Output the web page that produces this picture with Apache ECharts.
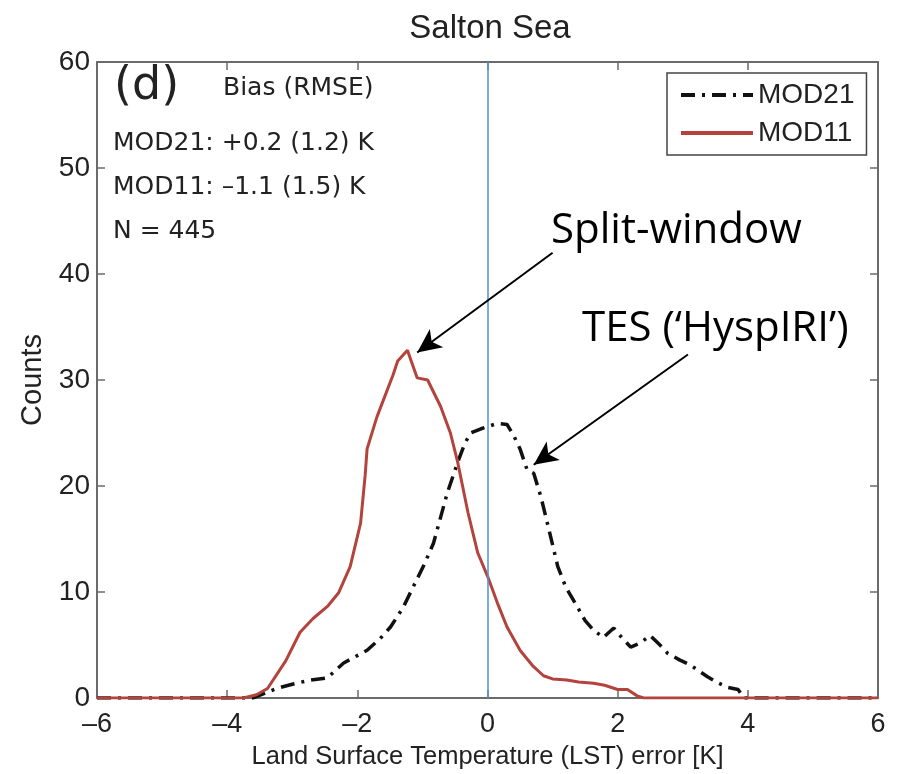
<!DOCTYPE html>
<html>
<head>
<meta charset="utf-8">
<script src="https://cdn.jsdelivr.net/npm/echarts@6/dist/echarts.min.js"></script>
<style>html,body{margin:0;padding:0;background:#fff;}#chart{width:900px;height:774px;}</style>
</head>
<body>
<div id="chart"></div>
<script>
// ---- data ----
var titleText = 'Salton Sea';
var xTicks = [-6, -4, -2, 0, 2, 4, 6];
var yTicks = [0, 10, 20, 30, 40, 50, 60];
var seriesNames = ['MOD21', 'MOD11'];

var mod21X = [-6, -3.6, -3.4, -3.24, -3.0, -2.72, -2.46, -2.3, -2.21, -2.0, -1.85, -1.65, -1.49, -1.3, -1.14, -0.98, -0.83, -0.62, -0.46, -0.35, -0.26, -0.1, 0, 0.15, 0.3, 0.4, 0.5, 0.61, 0.71, 0.82, 0.92, 1.08, 1.2, 1.38, 1.5, 1.63, 1.78, 1.94, 2.05, 2.2, 2.35, 2.5, 2.65, 2.77, 2.95, 3.12, 3.38, 3.55, 3.69, 3.85, 3.94, 6];
var mod21Y = [0, 0, 0.5, 0.9, 1.3, 1.7, 1.9, 2.8, 3.3, 4.0, 4.5, 5.6, 6.7, 8.5, 10.5, 12.5, 14.6, 19.3, 22.2, 24, 25, 25.4, 25.6, 25.9, 25.8, 24.8, 23.5, 21.5, 21.2, 19, 16.5, 12.4, 10.5, 8.6, 7.3, 6.4, 5.7, 6.6, 5.8, 4.8, 5.2, 5.9, 5.0, 4.2, 3.6, 3.1, 2.0, 1.4, 1.0, 0.8, 0, 0];

var mod11X = [-6, -3.75, -3.55, -3.38, -3.1, -2.88, -2.68, -2.45, -2.29, -2.11, -1.95, -1.88, -1.85, -1.7, -1.6, -1.45, -1.38, -1.23, -1.08, -0.92, -0.72, -0.57, -0.46, -0.3, -0.15, 0, 0.15, 0.3, 0.5, 0.7, 0.86, 1.0, 1.22, 1.4, 1.63, 1.8, 2.0, 2.15, 2.3, 2.4, 6];
var mod11Y = [0, 0, 0.3, 0.9, 3.5, 6.2, 7.5, 8.7, 9.9, 12.4, 16.5, 21, 23.5, 26.5, 28.1, 30.5, 31.8, 32.8, 30.2, 30, 27.5, 25, 22.3, 17.5, 13.7, 11.5, 9, 6.7, 4.5, 3, 2.1, 1.8, 1.7, 1.5, 1.4, 1.2, 0.8, 0.8, 0.2, 0, 0];

var infoLines = ['Bias (RMSE)', 'MOD21: +0.2 (1.2) K', 'MOD11: \u20131.1 (1.5) K', 'N = 445'];
var panelLabel = '(d)';
var xName = 'Land Surface Temperature (LST) error [K]';
var yName = 'Counts';
var annotSplit = 'Split-window';
var annotTES = 'TES (\u2018HyspIRI\u2019)';
// arrow start/end in data coordinates
var arrowSplit = [[1.0, 42.0], [-1.08, 32.6]];
var arrowTES = [[3.08, 32.4], [0.71, 22.0]];
var refLineX = 0;

function pairs(xs, ys) { return xs.map(function (x, i) { return [x, ys[i]]; }); }

var FONT = 'DejaVu Sans';
var HFONT = 'Liberation Sans';
var frameColor = '#6b6b6b';
var red = '#b3433c';

var chart = echarts.init(document.getElementById('chart'), null, { renderer: 'canvas' });

var axisCommon = {
  type: 'value',
  axisLine: { show: true, onZero: false, lineStyle: { color: frameColor, width: 2 } },
  axisTick: { show: true, inside: true, length: 8, lineStyle: { color: frameColor, width: 1.5 } },
  splitLine: { show: false }
};
function dash(v) { return String(v).replace('-', '\u2013'); }

var option = {
  animation: false,
  backgroundColor: '#ffffff',
  title: {
    text: titleText,
    left: 485, top: 7, textAlign: 'center',
    textStyle: { fontFamily: HFONT, fontSize: 33, fontWeight: 'normal', color: '#222' }
  },
  legend: {
    data: seriesNames,
    orient: 'vertical',
    left: 667, top: 73,
    padding: [8, 12, 8, 12],
    itemGap: 10,
    itemWidth: 72, itemHeight: 28,
    borderColor: '#444', borderWidth: 1.5, borderRadius: 0,
    backgroundColor: '#fff',
    itemStyle: { opacity: 0, color: 'transparent', borderWidth: 0 },
    lineStyle: { width: 4 },
    textStyle: { fontFamily: HFONT, fontSize: 28, color: '#222' }
  },
  grid: { left: 97, right: 22, top: 62, bottom: 76, containLabel: false, outerBoundsMode: 'none' },
  xAxis: [
    Object.assign({}, axisCommon, {
      position: 'bottom', min: xTicks[0], max: xTicks[xTicks.length - 1], interval: 2,
      axisLabel: { show: true, margin: 13, fontFamily: HFONT, fontSize: 27, color: '#222', formatter: dash },
      name: xName, nameLocation: 'middle', nameGap: 46,
      nameTextStyle: { fontFamily: HFONT, fontSize: 25.5, color: '#222' }
    }),
    Object.assign({}, axisCommon, {
      position: 'top', min: xTicks[0], max: xTicks[xTicks.length - 1], interval: 2,
      axisLabel: { show: false }
    })
  ],
  yAxis: [
    Object.assign({}, axisCommon, {
      position: 'left', min: yTicks[0], max: yTicks[yTicks.length - 1], interval: 10,
      axisLabel: { show: true, margin: 7, fontFamily: HFONT, fontSize: 28, color: '#222' },
      name: yName, nameLocation: 'middle', nameGap: 50, nameRotate: 90,
      nameTextStyle: { fontFamily: HFONT, fontSize: 29, color: '#222' }
    }),
    Object.assign({}, axisCommon, {
      position: 'right', min: yTicks[0], max: yTicks[yTicks.length - 1], interval: 10,
      axisLabel: { show: false }
    })
  ],
  series: [
    {
      name: seriesNames[0], type: 'line', data: pairs(mod21X, mod21Y),
      symbol: 'none', z: 3,
      lineStyle: { color: '#111', width: 3.5, type: [14, 7, 3, 7], cap: 'butt' },
      itemStyle: { color: '#111' }
    },
    {
      name: seriesNames[1], type: 'line', data: pairs(mod11X, mod11Y),
      symbol: 'none', z: 4,
      lineStyle: { color: red, width: 3 },
      itemStyle: { color: red }
    },
    {
      name: 'ref', type: 'line', data: [], z: 6,
      markLine: {
        silent: true, symbol: ['none', 'none'], label: { show: false },
        lineStyle: { color: '#4f93d6', width: 1.5, type: 'solid' },
        data: [{ xAxis: refLineX }]
      }
    },
    {
      name: 'arrows', type: 'line', data: [], z: 7,
      markLine: {
        silent: true, symbol: ['none', 'arrow'], symbolSize: [17, 24],
        label: { show: false },
        lineStyle: { color: '#000', width: 2, type: 'solid' },
        itemStyle: { color: '#000' },
        data: [
          [{ coord: arrowSplit[0] }, { coord: arrowSplit[1] }],
          [{ coord: arrowTES[0] }, { coord: arrowTES[1] }]
        ]
      }
    }
  ],
  graphic: [
    { type: 'text', left: 114, top: 64, style: { text: panelLabel, font: '46px "DejaVu Sans"', fill: '#222' } },
    { type: 'text', left: 223, top: 76, style: { text: infoLines[0], font: '25px "DejaVu Sans"', fill: '#222' } },
    { type: 'text', left: 113, top: 131, style: { text: infoLines[1], font: '25px "DejaVu Sans"', fill: '#222' } },
    { type: 'text', left: 113, top: 175, style: { text: infoLines[2], font: '25px "DejaVu Sans"', fill: '#222' } },
    { type: 'text', left: 113, top: 219, style: { text: infoLines[3], font: '25px "DejaVu Sans"', fill: '#222' } },
    { type: 'text', left: 551, top: 210, style: { text: annotSplit, font: '42px "Open Sans"', fill: '#000' } },
    { type: 'text', left: 582, top: 308, style: { text: annotTES, font: '42px "Open Sans"', fill: '#000' } }
  ]
};
chart.setOption(option);
</script>
</body>
</html>
